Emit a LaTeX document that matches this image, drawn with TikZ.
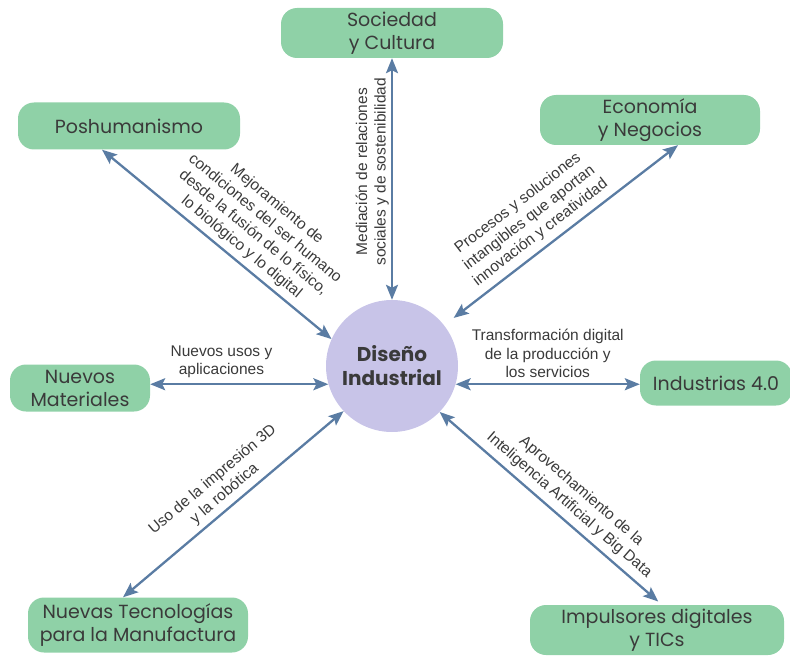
\documentclass[tikz,border=0pt]{standalone}
\usepackage{fontspec}
\setmainfont{Liberation Sans}
\newfontfamily\boxfont{Poppins}
\usetikzlibrary{arrows.meta,positioning}
\definecolor{boxgreen}{HTML}{8FD1A7}
\definecolor{disfill}{HTML}{C8C4E8}
\definecolor{linkblue}{HTML}{5A7CA3}
\definecolor{txtgray}{HTML}{3A3A3A}
\tikzset{
  area/.style={fill=boxgreen, rounded corners=16pt, text=txtgray, align=center, inner sep=0pt,
    font=\boxfont\fontsize{19}{23}\selectfont},
  link/.style={{Stealth[length=15pt,width=12pt,inset=3pt]}-{Stealth[length=15pt,width=12pt,inset=3pt]},
    draw=linkblue, line width=2.3pt},
  lbl/.style={font=\fontsize{15.5}{18.5}\selectfont, text=txtgray, align=center, inner sep=2pt}
}

\begin{document}
\begin{tikzpicture}[x=1pt,y=-1pt]
		\useasboundingbox (0,0) rectangle (790,658);
		% centre
		\node[circle, fill=disfill, minimum size=132pt, text=txtgray, align=center,
		  font=\boxfont\bfseries\fontsize{20}{24}\selectfont] (dis) at (392,366) {Diseño\\Industrial};
		% areas
		\node[area, minimum width=222pt, minimum height=50pt] (soc) at (392,33) {Sociedad\\y Cultura};
		\node[area, minimum width=222pt, minimum height=47pt] (posh) at (129,126) {Poshumanismo};
		\node[area, minimum width=220pt, minimum height=50pt] (econ) at (650,120) {Economía\\y Negocios};
		\node[area, minimum width=140pt, minimum height=47pt] (nmat) at (80,388) {Nuevos\\Materiales};
		\node[area, minimum width=152pt, minimum height=45pt] (ind) at (716,383) {Industrias 4.0};
		\node[area, minimum width=220pt, minimum height=55pt] (ntec) at (138,625) {Nuevas Tecnologías\\para la Manufactura};
		\node[area, minimum width=254pt, minimum height=50pt] (imp) at (657,630) {Impulsores digitales\\y TICs};
		% links
		\draw[link] (dis.north) -- node[lbl, rotate=90, anchor=south, pos=0.53] {Mediación de relaciones\\sociales y de sostenibilidad} (soc.south);
		\draw[link] ([xshift=-27pt]posh.south) -- node[lbl, sloped, above=3pt, pos=0.57] {Mejoramiento de\\condiciones del ser humano\\desde la fusión de lo físico,\\lo biológico  y lo digital} (dis.156);
		\draw[link, shorten >=12pt] ([xshift=28pt]econ.south) -- node[lbl, sloped, above=4pt, pos=0.55] {Procesos y soluciones\\intangibles que aportan\\innovación y creatividad} (dis.38);
		\draw[link] (nmat.east |- dis.196) -- node[lbl, above=3pt, pos=0.4] {Nuevos usos y\\aplicaciones} (dis.196);
		\draw[link] (dis.344) -- node[lbl, above=3pt, midway] {Transformación digital\\de la producción y\\los servicios} (ind.west |- dis.344);
		\draw[link] ([xshift=-15pt]ntec.north) -- node[lbl, sloped, above=3pt, pos=0.5] {Uso de la impresión 3D\\y la robótica} (dis.223);
		\draw[link, shorten >=5pt] (dis.316) -- node[lbl, sloped, above=4pt, pos=0.54] {Aprovechamiento de la\\Inteligencia Artificial y Big Data} ([xshift=5pt]imp.north);
\end{tikzpicture}
\end{document}
